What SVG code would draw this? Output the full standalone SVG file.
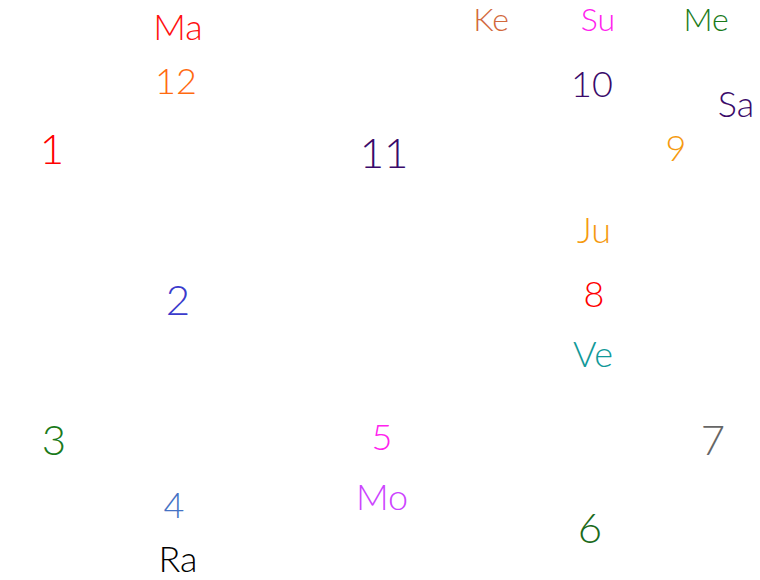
<svg xmlns="http://www.w3.org/2000/svg" width="760" height="580" viewBox="0 0 760 580">
<style>
text{font-family:Lato,"Noto Sans",sans-serif;text-anchor:middle;font-weight:300}
.b{font-size:42px}.m{font-size:36px}.s{font-size:32px}
</style>
<rect width="760" height="580" fill="#fff"/>
<g id="connectors"></g>
<g id="h1"><text class="b" x="52" y="164" fill="#ff0000">1</text></g>
<g id="h2"><text class="b" x="178" y="315" fill="#3b3bcc">2</text></g>
<g id="h3"><text class="b" x="54" y="455" fill="#1a7a1a">3</text></g>
<g id="h4"><text class="m" x="174" y="518" fill="#4472c4">4</text><text class="m" x="178" y="572" fill="#000">Ra</text></g>
<g id="h5"><text class="m" x="382" y="450" fill="#ff22ee">5</text><text class="m" x="382" y="510" fill="#cc44ff">Mo</text></g>
<g id="h6"><text class="b" x="590" y="543" fill="#1a6a1a">6</text></g>
<g id="h7"><text class="b" x="713" y="455" fill="#666666">7</text></g>
<g id="h8"><text class="m" x="594" y="243" fill="#f59a10">Ju</text><text class="m" x="594" y="307" fill="#ff0000">8</text><text class="m" x="593" y="367" fill="#119999">Ve</text></g>
<g id="h9"><text class="m" x="676" y="161" fill="#f59a10">9</text><text class="m" x="736" y="117" fill="#3a0a6a">Sa</text></g>
<g id="h10"><text class="m" x="592" y="97" fill="#3a0a6a">10</text><text class="s" x="491" y="31" fill="#d2693c">Ke</text><text class="s" x="598" y="31" fill="#ff22ee">Su</text><text class="s" x="706" y="31" fill="#1a7a1a">Me</text></g>
<g id="h11"><text class="b" x="384" y="168" fill="#3a0a6a">11</text></g>
<g id="h12"><text class="m" x="176" y="94" fill="#ff6a10">12</text><text class="m" x="178" y="40" fill="#ff1010">Ma</text></g>
</svg>
